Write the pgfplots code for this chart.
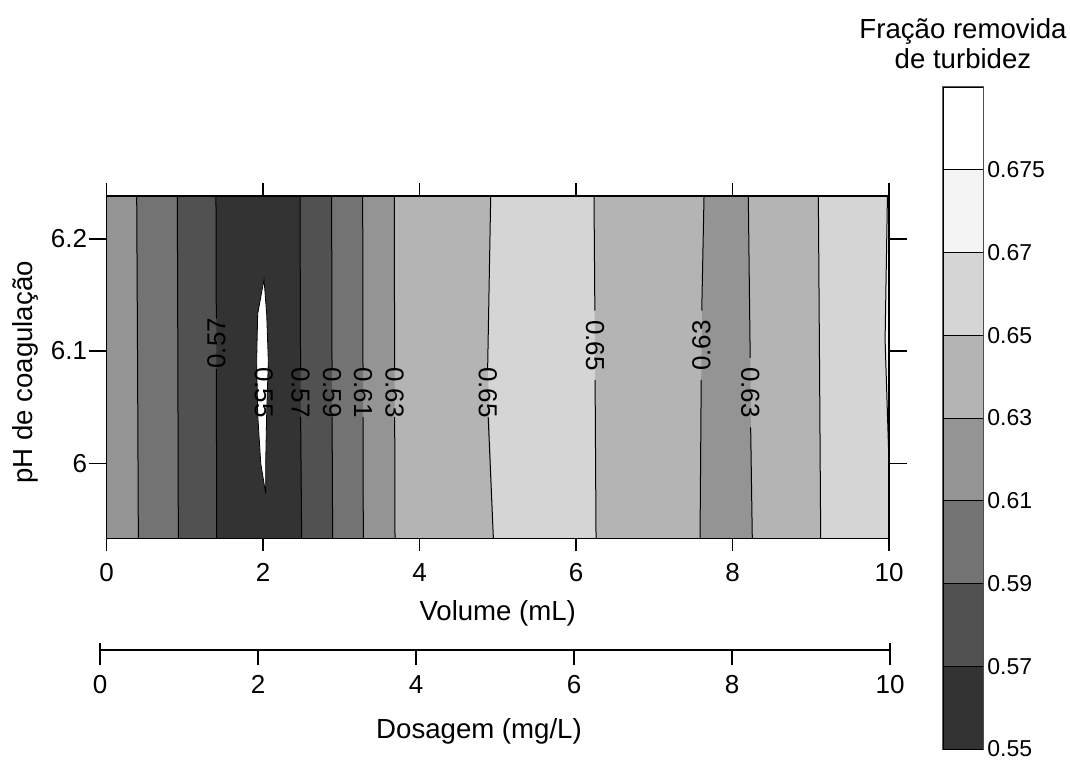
\documentclass[border=0pt]{standalone}
\usepackage{pgfplots}
\pgfplotsset{compat=1.18}
\usepackage{fontspec}
\setmainfont{Liberation Sans}
\definecolor{cA}{HTML}{333333}% 0.55-0.57
\definecolor{cB}{HTML}{515151}% 0.57-0.59
\definecolor{cC}{HTML}{737373}% 0.59-0.61
\definecolor{cD}{HTML}{949494}% 0.61-0.63
\definecolor{cE}{HTML}{B4B4B4}% 0.63-0.65
\definecolor{cF}{HTML}{D5D5D5}% 0.65-0.67
\definecolor{cG}{HTML}{F4F4F4}% 0.67-0.675
\newcommand{\tickfont}{\fontsize{13}{15}\selectfont}
\newcommand{\cbfont}{\fontsize{11.5}{13}\selectfont}
\newcommand{\labfont}{\fontsize{13.8}{15}\selectfont}
\newcommand{\cfont}{\fontsize{13}{14}\selectfont}
\begin{document}
\begin{tikzpicture}
\path[use as bounding box] (-53.25pt,-110.85pt) rectangle (481.75pt,269.15pt);
% ---------------- main contour axis ----------------
\begin{axis}[
  at={(0pt,0pt)}, anchor=south west,
  scale only axis, width=391.25pt, height=171pt,
  xmin=0, xmax=10, ymin=5.933, ymax=6.238,
  xtick=\empty,
  ytick={6,6.1,6.2}, yticklabels={6,6.1,6.2},
  tick align=outside, major tick length=9pt,
  axis line style={line width=0.8pt},
  every tick/.style={black, line width=0.6pt},
  /pgf/number format/assume math mode=true,
  yticklabel style={font=\tickfont, inner sep=0pt, xshift=-0.5pt},
  ylabel={pH de coagulação},
  ylabel style={font=\labfont, at={(axis description cs:0,0.485)}, anchor=base, yshift=36.75pt},
  axis on top, clip=true,
]
% filled bands (each painted from its left boundary to the right edge)
\addplot[fill=cD, draw=none] coordinates {(0,6.238)(10,6.238)(10,5.933)(0,5.933)} --cycle;
\addplot[fill=cC, draw=none] coordinates {(0.386,6.238)(10,6.238)(10,5.933)(0.407,5.933)(0.397,6.09)} --cycle;
\addplot[fill=cB, draw=none] coordinates {(0.905,6.238)(10,6.238)(10,5.933)(0.918,5.933)(0.912,6.09)} --cycle;
\addplot[fill=cA, draw=none] coordinates {(1.399,6.238)(10,6.238)(10,5.933)(1.408,5.933)(1.404,6.09)} --cycle;
\addplot[fill=cB, draw=none] coordinates {(2.473,6.238)(10,6.238)(10,5.933)(2.494,5.933)(2.480,6.09)} --cycle;
\addplot[fill=cC, draw=none] coordinates {(2.877,6.238)(10,6.238)(10,5.933)(2.890,5.933)(2.882,6.09)} --cycle;
\addplot[fill=cD, draw=none] coordinates {(3.274,6.238)(10,6.238)(10,5.933)(3.282,5.933)(3.278,6.09)} --cycle;
\addplot[fill=cE, draw=none] coordinates {(3.678,6.238)(10,6.238)(10,5.933)(3.687,5.933)(3.682,6.09)} --cycle;
\addplot[fill=cF, draw=none] coordinates {(4.910,6.238)(10,6.238)(10,5.933)(4.944,5.933)(4.871,6.09)} --cycle;
\addplot[fill=cE, draw=none] coordinates {(6.230,6.238)(10,6.238)(10,5.933)(6.256,5.933)(6.243,6.09)} --cycle;
\addplot[fill=cD, draw=none] coordinates {(7.636,6.238)(10,6.238)(10,5.933)(7.585,5.933)(7.602,6.09)} --cycle;
\addplot[fill=cE, draw=none] coordinates {(8.202,6.238)(10,6.238)(10,5.933)(8.253,5.933)(8.228,6.09)} --cycle;
\addplot[fill=cF, draw=none] coordinates {(9.097,6.238)(10,6.238)(10,5.933)(9.127,5.933)(9.112,6.09)} --cycle;
\addplot[fill=cG, draw=none] coordinates {(9.980,6.238)(10,6.238)(10,6.000)(9.950,6.110)} --cycle;
% white region below 0.55
\addplot[fill=white, draw=black, line width=0.4pt] coordinates {(2.013,6.164)(2.047,6.133)(2.068,6.091)(2.047,6.044)(2.034,6.000)(2.034,5.973)(1.971,6.000)(1.932,6.044)(1.919,6.091)(1.932,6.133)} --cycle;
% contour lines
\addplot[black, line width=0.5pt] coordinates {(0.386,6.238)(0.397,6.09)(0.407,5.933)};
\addplot[black, line width=0.5pt] coordinates {(0.905,6.238)(0.912,6.09)(0.918,5.933)};
\addplot[black, line width=0.5pt] coordinates {(1.399,6.238)(1.403,6.129)};
\addplot[black, line width=0.5pt] coordinates {(1.404,6.084)(1.408,5.933)};
\addplot[black, line width=0.5pt] coordinates {(2.473,6.238)(2.480,6.085)};
\addplot[black, line width=0.5pt] coordinates {(2.481,6.041)(2.494,5.933)};
\addplot[black, line width=0.5pt] coordinates {(2.877,6.238)(2.882,6.085)};
\addplot[black, line width=0.5pt] coordinates {(2.883,6.041)(2.890,5.933)};
\addplot[black, line width=0.5pt] coordinates {(3.274,6.238)(3.278,6.085)};
\addplot[black, line width=0.5pt] coordinates {(3.278,6.041)(3.282,5.933)};
\addplot[black, line width=0.5pt] coordinates {(3.678,6.238)(3.682,6.085)};
\addplot[black, line width=0.5pt] coordinates {(3.683,6.041)(3.687,5.933)};
\addplot[black, line width=0.5pt] coordinates {(4.910,6.238)(4.871,6.085)};
\addplot[black, line width=0.5pt] coordinates {(4.878,6.041)(4.944,5.933)};
\addplot[black, line width=0.5pt] coordinates {(6.230,6.238)(6.241,6.136)};
\addplot[black, line width=0.5pt] coordinates {(6.244,6.074)(6.256,5.933)};
\addplot[black, line width=0.5pt] coordinates {(7.636,6.238)(7.607,6.136)};
\addplot[black, line width=0.5pt] coordinates {(7.600,6.074)(7.585,5.933)};
\addplot[black, line width=0.5pt] coordinates {(8.202,6.238)(8.226,6.094)};
\addplot[black, line width=0.5pt] coordinates {(8.232,6.032)(8.253,5.933)};
\addplot[black, line width=0.5pt] coordinates {(9.097,6.238)(9.112,6.09)(9.127,5.933)};
\addplot[black, line width=0.5pt] coordinates {(9.980,6.238)(9.950,6.110)(10,6.000)};
% contour labels
\node[font=\cfont, rotate=90]  at (axis cs:1.405,6.107) {0.57};
\node[font=\cfont, rotate=-90] at (axis cs:2.010,6.063) {0.55};
\node[font=\cfont, rotate=-90] at (axis cs:2.480,6.063) {0.57};
\node[font=\cfont, rotate=-90] at (axis cs:2.882,6.063) {0.59};
\node[font=\cfont, rotate=-90] at (axis cs:3.278,6.063) {0.61};
\node[font=\cfont, rotate=-90] at (axis cs:3.682,6.063) {0.63};
\node[font=\cfont, rotate=-90] at (axis cs:4.874,6.063) {0.65};
\node[font=\cfont, rotate=-90] at (axis cs:6.243,6.105) {0.65};
\node[font=\cfont, rotate=90]  at (axis cs:7.604,6.105) {0.63};
\node[font=\cfont, rotate=-90] at (axis cs:8.229,6.063) {0.63};
\end{axis}
% ---------------- x ticks of the main axis (Volume) ----------------
\begin{axis}[
  at={(0pt,0pt)}, anchor=south west,
  scale only axis, width=391.25pt, height=171pt,
  xmin=0, xmax=10, ymin=5.933, ymax=6.238,
  xtick={0,2,...,10}, ytick=\empty,
  tick align=outside, major tick length=6.5pt,
  axis line style={line width=0.8pt},
  every tick/.style={black, line width=0.6pt},
  /pgf/number format/assume math mode=true,
  xticklabel style={font=\tickfont, anchor=base, yshift=-15.3pt},
  xlabel={Volume (mL)},
  xlabel style={font=\labfont, at={(axis description cs:0.5,0)}, anchor=base, yshift=-41pt},
]
\end{axis}
% ---------------- second x axis (Dosagem) ----------------
\begin{axis}[
  at={(-3.25pt,-55.85pt)}, anchor=south west,
  scale only axis, width=395pt, height=10pt,
  xmin=0, xmax=10, ymin=0, ymax=1,
  axis x line=bottom, axis y line=none, axis line style={-, line width=0.8pt},
  xtick={0,2,...,10},
  tick align=outside, major tick length=7.5pt,
  every tick/.style={black, line width=0.6pt},
  extra x ticks={0,10}, extra x tick labels={},
  extra x tick style={tick align=inside, major tick length=3.5pt},
  /pgf/number format/assume math mode=true,
  xticklabel style={font=\tickfont, anchor=base, yshift=-14pt},
  xlabel={Dosagem (mg/L)},
  xlabel style={font=\labfont, at={(axis description cs:0.5,0)}, anchor=base, yshift=-44pt, xshift=-8pt},
]
\end{axis}
% ---------------- colour bar ----------------
\begin{axis}[
  at={(418.25pt,-105.35pt)}, anchor=south west,
  scale only axis, width=20pt, height=331pt,
  xmin=0, xmax=1, ymin=0, ymax=8,
  xtick=\empty, ytick={0,1,...,7},
  yticklabels={0.55,0.57,0.59,0.61,0.63,0.65,0.67,0.675},
  yticklabel pos=right, major tick length=0pt,
  axis line style={draw=black!65, line width=1pt},
  yticklabel style={font=\cbfont, anchor=west, inner sep=0pt, xshift=2pt},
  title={Fração removida\\de turbidez},
  title style={font=\labfont, align=center, at={(axis description cs:0.5,1)}, anchor=south, yshift=-0.5pt},
]
\addplot[fill=cA, draw=black, line width=0.5pt] coordinates {(0,0)(1,0)(1,1)(0,1)} --cycle;
\addplot[fill=cB, draw=black, line width=0.5pt] coordinates {(0,1)(1,1)(1,2)(0,2)} --cycle;
\addplot[fill=cC, draw=black, line width=0.5pt] coordinates {(0,2)(1,2)(1,3)(0,3)} --cycle;
\addplot[fill=cD, draw=black, line width=0.5pt] coordinates {(0,3)(1,3)(1,4)(0,4)} --cycle;
\addplot[fill=cE, draw=black, line width=0.5pt] coordinates {(0,4)(1,4)(1,5)(0,5)} --cycle;
\addplot[fill=cF, draw=black, line width=0.5pt] coordinates {(0,5)(1,5)(1,6)(0,6)} --cycle;
\addplot[fill=cG, draw=black, line width=0.5pt] coordinates {(0,6)(1,6)(1,7)(0,7)} --cycle;
\addplot[fill=white, draw=black, line width=0.5pt] coordinates {(0,7)(1,7)(1,8)(0,8)} --cycle;
\end{axis}
\end{tikzpicture}
\end{document}
